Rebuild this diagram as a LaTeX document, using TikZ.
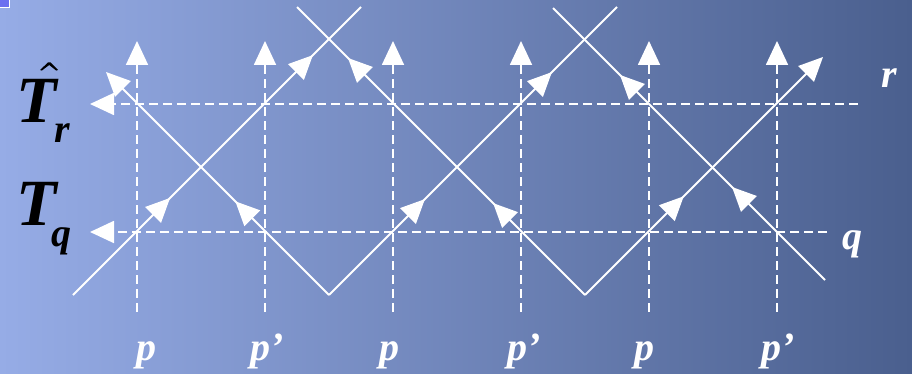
\documentclass[tikz,border=0pt]{standalone}
\usepackage{fontspec}
\setmainfont{Liberation Serif}
\usetikzlibrary{arrows.meta,decorations.markings}
\definecolor{bgL}{HTML}{96ACE6}
\definecolor{bgM}{HTML}{6C83BC}
\definecolor{bgR}{HTML}{4A5F8E}
\definecolor{handle}{HTML}{6B6FF0}
\tikzset{
  tipA/.tip={Triangle[length=24pt,width=22pt]},
  wire/.style={white,line width=1.8pt},
  gridline/.style={white,line width=1.8pt,dash pattern=on 9pt off 5pt},
  arrowat/.style={postaction={decorate,decoration={markings,
      mark=at position #1 with {\arrow{tipA}}}}},
  lbl/.style={text=white,inner sep=0pt,font=\fontsize{40}{40}\selectfont\bfseries\itshape},
  big/.style={text=black,inner sep=0pt,font=\fontsize{66}{66}\selectfont\bfseries\itshape},
  sub/.style={text=black,inner sep=0pt,font=\fontsize{40}{40}\selectfont\bfseries\itshape}
}
\begin{document}
\begin{tikzpicture}[x=1pt,y=-1pt]
\useasboundingbox (0,0) rectangle (912,374);
\shade[left color=bgL,middle color=bgM,right color=bgR] (0,0) rectangle (912,374);
\draw[white,line width=1pt,fill=handle] (-1,-1) rectangle (9,8);

% grid coordinates
\foreach \n/\x in {1/137,2/265,3/393,4/521,5/649,6/777}{
  \coordinate (vb\n) at (\x,312);
  \coordinate (vt\n) at (\x,41);
}
\coordinate (rR) at (858,104);
\coordinate (rL) at (90,104);
\coordinate (qR) at (827,232);
\coordinate (qL) at (90,232);

% dashed grid
\foreach \n in {1,...,6}{
  \draw[gridline,-tipA] (vb\n) -- (vt\n);
}
\draw[gridline,-tipA] (rR) -- (rL);
\draw[gridline,-tipA] (qR) -- (qL);

% solid diagonal lines
\coordinate (s1) at (73,295);
\coordinate (e1) at (361,7);
\coordinate (v1) at (329,295);
\coordinate (e2) at (106,72);
\coordinate (e3) at (617,7);
\coordinate (v2) at (585,295);
\coordinate (e4) at (297,7);
\coordinate (e5) at (823,57);
\coordinate (s6) at (825,280);
\coordinate (e6) at (553,8);

\draw[wire,arrowat=0.337,arrowat=0.833] (s1) -- (e1);
\draw[wire,-tipA,arrowat=0.42] (v1) -- (e2);
\draw[wire,arrowat=0.333,arrowat=0.774] (v1) -- (e3);
\draw[wire,arrowat=0.319,arrowat=0.823] (v2) -- (e4);
\draw[wire,-tipA,arrowat=0.415] (v2) -- (e5);
\draw[wire,arrowat=0.342,arrowat=0.754] (s6) -- (e6);

% labels
\node[lbl,anchor=base] (lp1) at (146,360) {p};
\node[lbl,anchor=base] (lp2) at (267,360) {p’};
\node[lbl,anchor=base] (lp3) at (389,360) {p};
\node[lbl,anchor=base] (lp4) at (524,360) {p’};
\node[lbl,anchor=base] (lp5) at (644,360) {p};
\node[lbl,anchor=base] (lp6) at (778,360) {p’};
\node[lbl,anchor=base] (lr) at (889,88) {r};
\node[lbl,anchor=base] (lq) at (852,249) {q};

\node[big,anchor=base west] (Tr) at (16,123) {T};
\node[sub,anchor=base west] (Trs) at (54,143) {r};
\fill[black] (40,70) -- (48,62.5) -- (50.5,62.5) -- (58,70) -- (56.2,70.6) -- (49.2,65) -- (41.8,70.6) -- cycle;
\node[big,anchor=base west] (Tq) at (16,225) {T};
\node[sub,anchor=base west] (Tqs) at (51,246) {q};
\end{tikzpicture}
\end{document}
